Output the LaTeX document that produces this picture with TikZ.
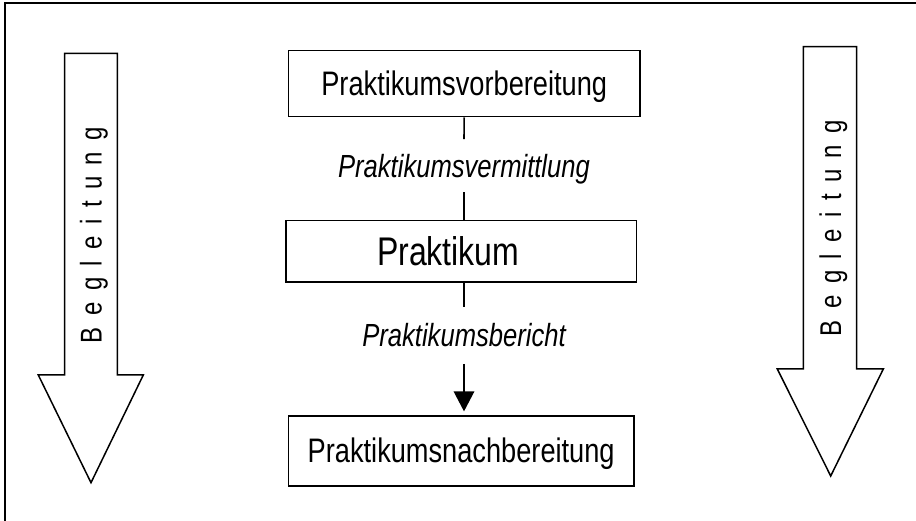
\documentclass[tikz,border=0pt]{standalone}
\usepackage{fontspec}
\setmainfont{Liberation Sans}[FakeStretch=0.8]
\usetikzlibrary{arrows.meta}
\begin{document}
\begin{tikzpicture}[x=1pt, y=-1pt, line width=1.6pt,
  stage/.style={draw, inner sep=0pt, text height=24.3pt, text depth=0pt,
    font=\fontsize{34}{38}\selectfont},
  link/.style={inner sep=0pt, text height=22.9pt, text depth=0pt,
    minimum width=10pt, font=\fontsize{32}{36}\selectfont\itshape},
  escort/.style={rotate=90, anchor=base, inner sep=0pt,
    font=\fontsize{30}{34}\selectfont\addfontfeature{LetterSpace=38}},
  bigarrow/.style={draw, line width=1.5pt, line join=miter}]
\useasboundingbox (0,0) rectangle (916,521);
% outer frame
\draw (5,3) rectangle (917.5,522.5);

% broad arrows on both sides
\draw[bigarrow] (64.7,53.3) -- (117.3,53.3) -- (117.3,375) -- (143.3,375)
  -- (91,482.7) -- (38.3,375) -- (64.7,375) -- cycle;
\draw[bigarrow] (803.3,46.7) -- (856.7,46.7) -- (856.7,369) -- (883.3,369)
  -- (830.7,476) -- (777.3,369) -- (803.3,369) -- cycle;
\node[escort] (escortL) at (101.5,235) {Begleitung};
\node[escort] (escortR) at (841,228) {Begleitung};

% stages
\node[stage, minimum width=351.7pt, minimum height=66pt] (prep) at (464.2,83.7) {Praktikumsvorbereitung};
\node[link, minimum height=51.7pt] (lab1) at (464,165.8) {Praktikumsvermittlung};
\node[stage, minimum width=350.7pt, minimum height=61.6pt, text height=28.6pt,
  font=\fontsize{40}{44}\selectfont] (prak) at (461.3,251.5) {Praktikum\hspace*{26pt}};
\node[link, minimum height=55pt] (lab2) at (464,335.5) {Praktikumsbericht};
\node[stage, minimum width=345.7pt, minimum height=70pt] (post) at (461.2,450.7) {Praktikumsnachbereitung};

% connectors
\draw (prep.south) -- (lab1.north);
\draw (lab1.south) -- (lab1.south |- prak.north);
\draw (lab2.north |- prak.south) -- (lab2.north);
\draw[-{Triangle[width=20.5pt,length=20pt]}, shorten >=3.5pt]
  (lab2.south) -- (lab2.south |- post.north);
\end{tikzpicture}
\end{document}
